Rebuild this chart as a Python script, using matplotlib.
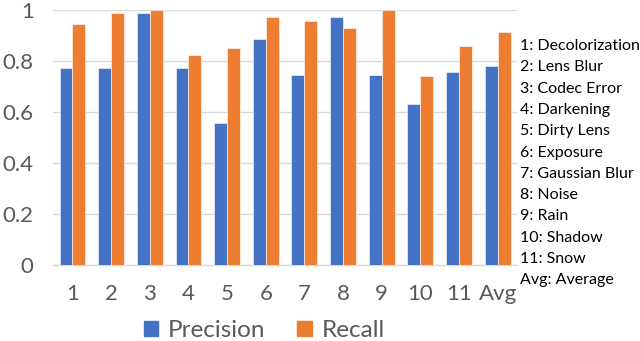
import matplotlib
matplotlib.use("Agg")
import matplotlib.pyplot as plt
import numpy as np
from matplotlib.patches import Patch

categories = ["1", "2", "3", "4", "5", "6", "7", "8", "9", "10", "11", "Avg"]
precision = [0.771, 0.771, 0.986, 0.771, 0.557, 0.886, 0.744, 0.973, 0.744, 0.630, 0.758, 0.780]
recall = [0.944, 0.986, 1.0, 0.824, 0.852, 0.973, 0.958, 0.929, 1.0, 0.742, 0.857, 0.914]
key_lines = ["1: Decolorization", "2: Lens Blur", "3: Codec Error", "4: Darkening",
             "5: Dirty Lens", "6: Exposure", "7: Gaussian Blur", "8: Noise",
             "9: Rain", "10: Shadow", "11: Snow", "Avg: Average"]

plt.rcParams['font.family'] = ['Lato', 'DejaVu Sans']
blue = "#4472C4"
orange = "#ED7D31"
gray = "#595959"

fig = plt.figure(figsize=(6.4, 3.41), dpi=100)
ax = fig.add_axes([0.083, 0.223, 0.725, 0.748])
x = np.arange(len(categories))
w = 0.335
ax.bar(x - w/2, precision, w, color=blue, edgecolor="white", linewidth=0.4, zorder=3)
ax.bar(x + w/2, recall, w, color=orange, edgecolor="white", linewidth=0.4, zorder=3)
ax.set_xlim(-0.5, len(categories) - 0.5)
ax.set_ylim(0, 1)
ax.set_yticks([0, 0.2, 0.4, 0.6, 0.8, 1.0])
ax.set_yticklabels(["0", "0.2", "0.4", "0.6", "0.8", "1"])
ax.set_xticks(x)
ax.set_xticklabels(categories)
ax.tick_params(axis='both', length=0, labelsize=16, colors=gray)
ax.tick_params(axis='x', pad=14)
ax.tick_params(axis='y', pad=14)
ax.yaxis.grid(True, color="#d9d9d9", linewidth=1, zorder=0)
ax.set_axisbelow(True)
for s in ["top", "right", "left"]:
    ax.spines[s].set_visible(False)
ax.spines["bottom"].set_color("#d9d9d9")
ax.spines["bottom"].set_linewidth(1)

handles = [Patch(color=blue, label="Precision"), Patch(color=orange, label="Recall")]
fig.legend(handles=handles, loc="center", bbox_to_anchor=(0.413, 0.03), ncol=2,
           frameon=False, fontsize=17.5, labelcolor=gray, handlelength=0.6,
           handleheight=0.6, handletextpad=0.4, columnspacing=1.3)

y0 = 46
for i, t in enumerate(key_lines):
    fig.text(520/640, 1 - (y0 + i*21.3)/341, t, fontsize=11.5, color="black",
             va="center", ha="left")

fig.savefig("out.png", dpi=100)
